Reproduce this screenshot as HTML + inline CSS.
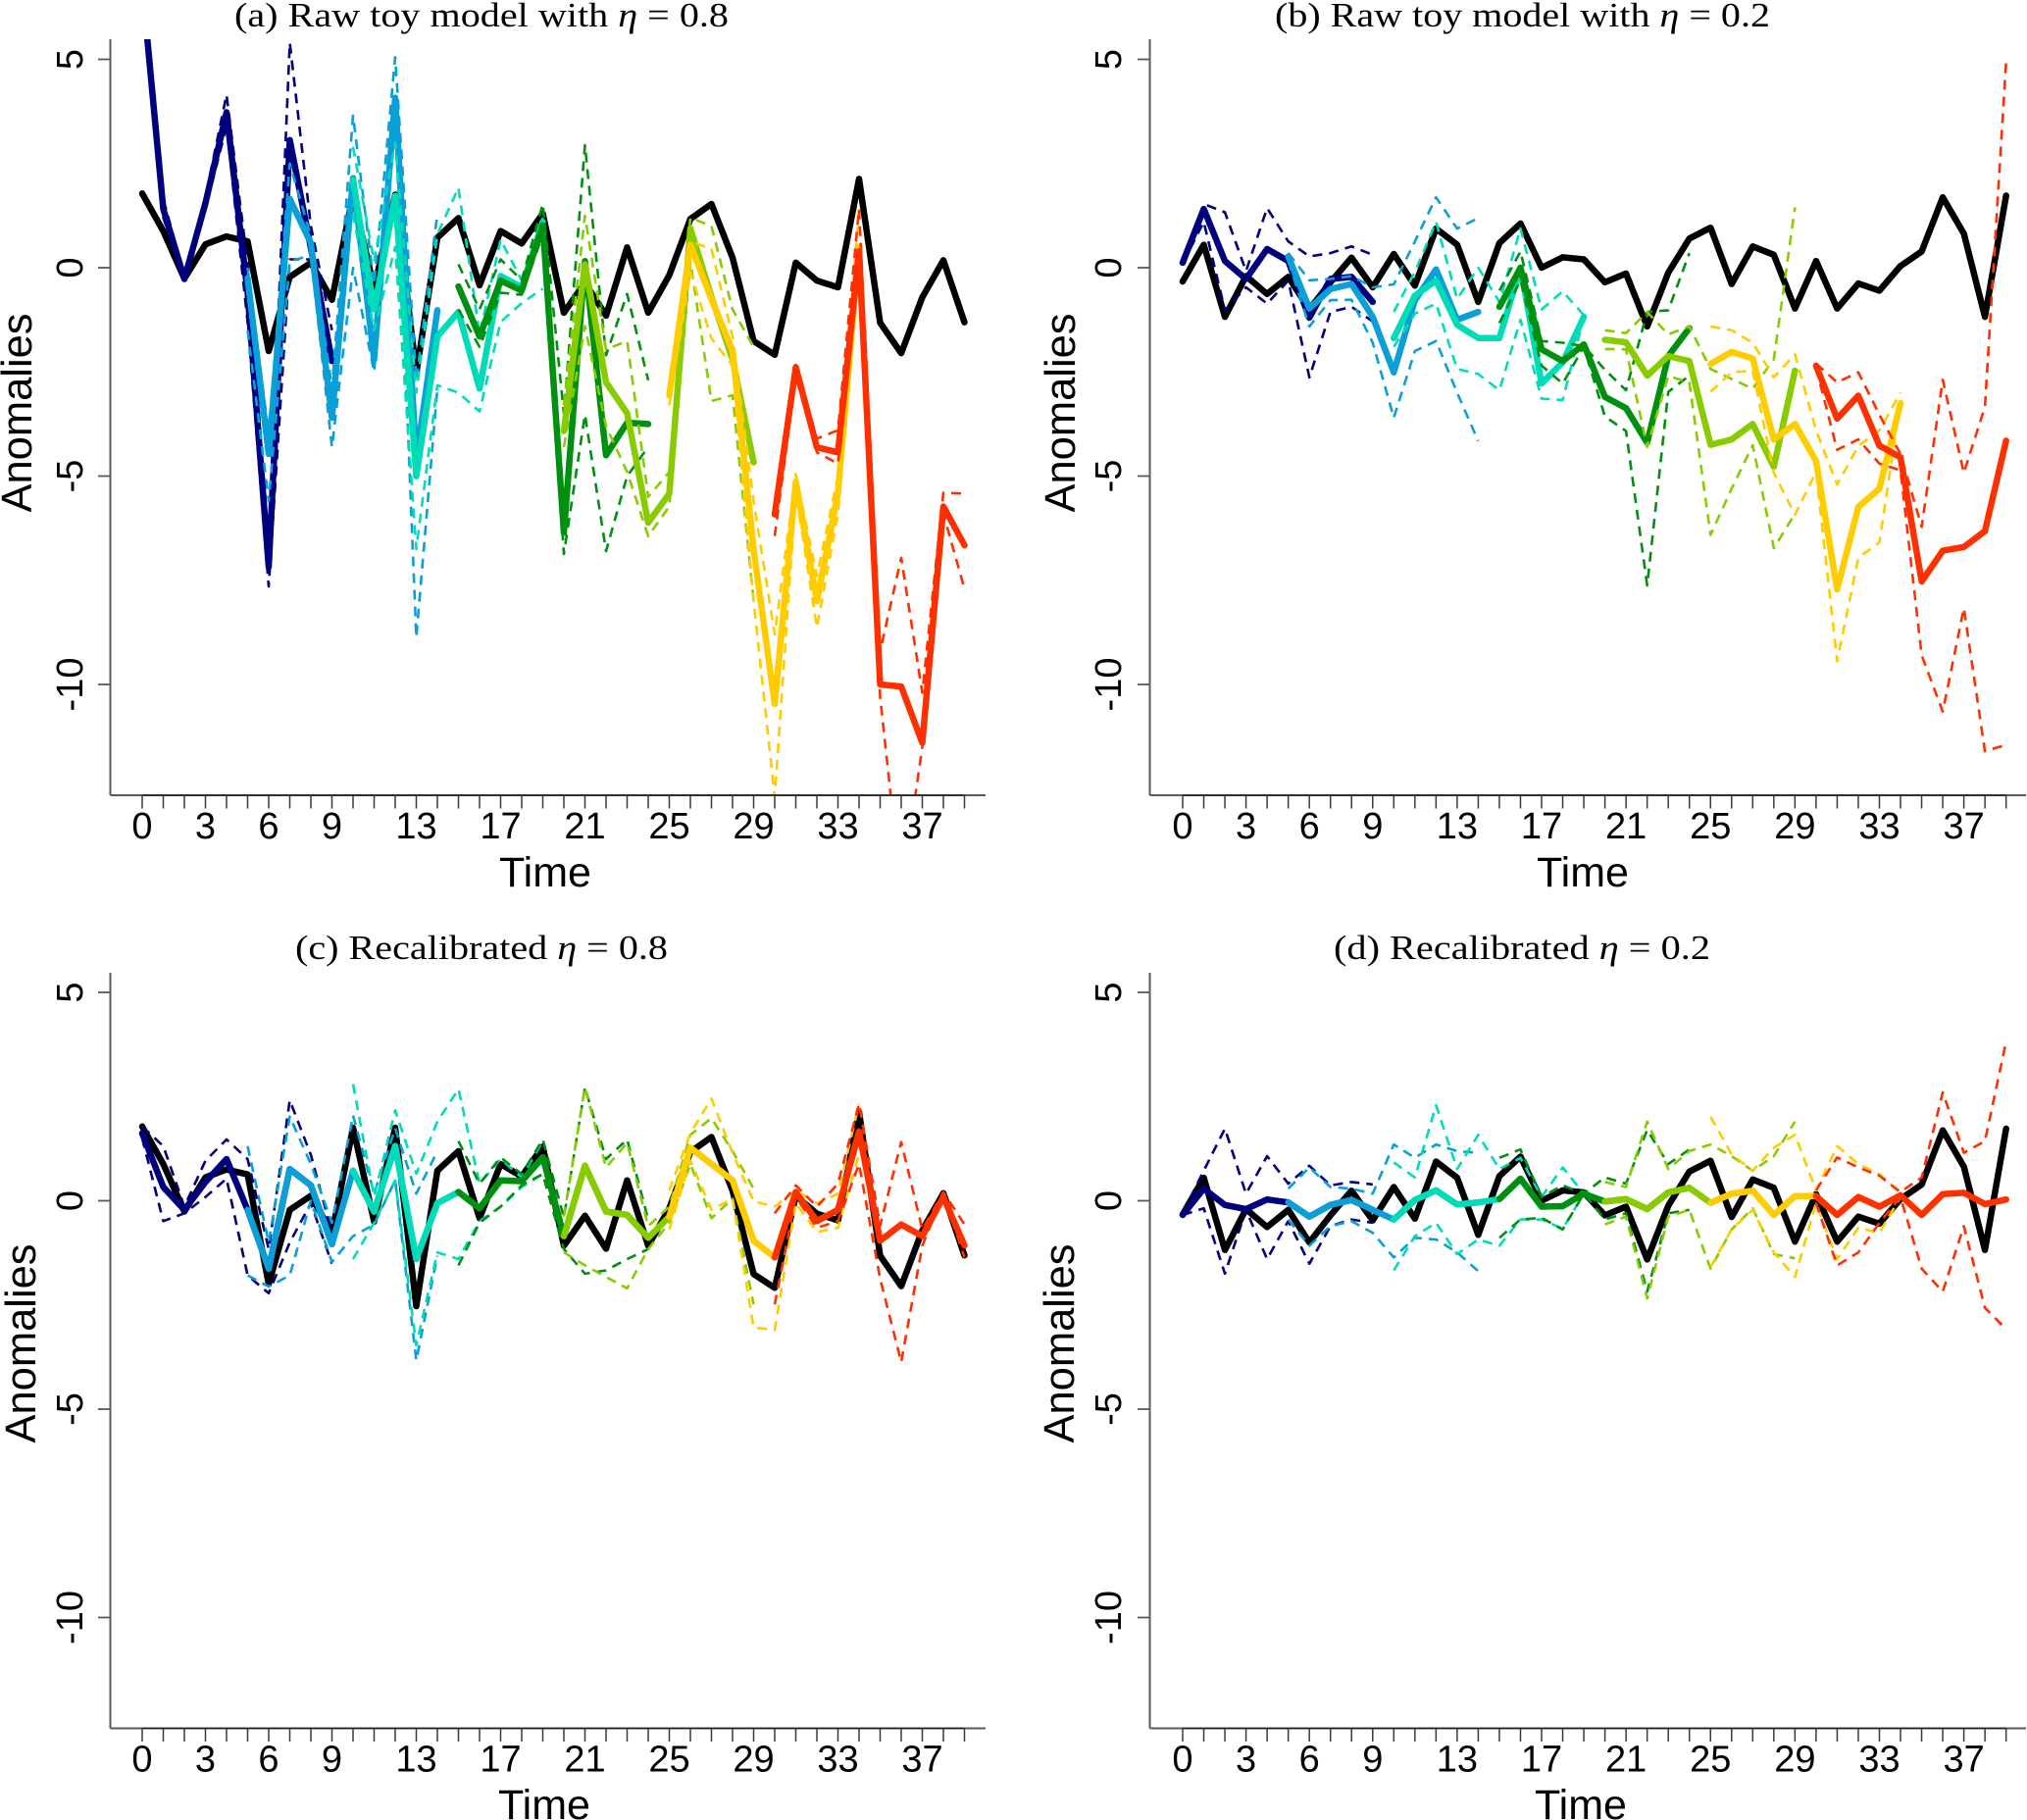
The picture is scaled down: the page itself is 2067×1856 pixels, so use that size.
<!DOCTYPE html>
<html>
<head>
<meta charset="utf-8">
<title>Toy model anomalies</title>
<style>
html,body{margin:0;padding:0;background:#fff;}
svg{display:block;}
.sans{font-family:"Liberation Sans",sans-serif;fill:#000;}
.serif{font-family:"Liberation Serif",serif;fill:#000;font-size:35px;}
</style>
</head>
<body>
<svg id="figure" xmlns="http://www.w3.org/2000/svg" width="2067" height="1856" viewBox="0 0 2067 1856">
<rect width="2067" height="1856" fill="#fff"/>
<text class="serif" x="239" y="27" textLength="504" lengthAdjust="spacingAndGlyphs">(a) Raw toy model with <tspan font-style="italic">η</tspan> = 0.8</text>
<text class="serif" x="1300" y="27" textLength="505" lengthAdjust="spacingAndGlyphs">(b) Raw toy model with <tspan font-style="italic">η</tspan> = 0.2</text>
<text class="serif" x="301" y="978" textLength="380" lengthAdjust="spacingAndGlyphs">(c) Recalibrated <tspan font-style="italic">η</tspan> = 0.8</text>
<text class="serif" x="1360" y="978" textLength="384" lengthAdjust="spacingAndGlyphs">(d) Recalibrated <tspan font-style="italic">η</tspan> = 0.2</text>
<text class="sans" font-size="43.5" text-anchor="middle" transform="translate(32,421) rotate(-90)">Anomalies</text>
<text class="sans" font-size="43.5" text-anchor="middle" transform="translate(1096,421) rotate(-90)">Anomalies</text>
<text class="sans" font-size="43.5" text-anchor="middle" transform="translate(36,1370) rotate(-90)">Anomalies</text>
<text class="sans" font-size="43.5" text-anchor="middle" transform="translate(1095,1370) rotate(-90)">Anomalies</text>
<text class="sans" font-size="43" text-anchor="middle" x="556" y="904">Time</text>
<text class="sans" font-size="43" text-anchor="middle" x="1614" y="904">Time</text>
<text class="sans" font-size="43" text-anchor="middle" x="555" y="1855">Time</text>
<text class="sans" font-size="43" text-anchor="middle" x="1612" y="1855">Time</text>
</svg>
<script>
const xTickLabels=[0,3,6,9,13,17,21,25,29,33,37];
const yTickLabels=[5,0,-5,-10];
const leadStarts=[0,5,10,15,20,25,30];
const leadNames=['navy','blue','teal','green','lime','yellow','red'];
const leadColors=['#00007f','#0a9fd6','#00dcb8','#009010','#88cc00','#ffcc00','#ff3000'];

const obsHighEta=[1.78,0.88,-0.26,0.56,0.75,0.63,-2.0,-0.22,0.12,-0.77,1.75,-0.5,1.75,-2.53,0.72,1.19,-0.42,0.88,0.58,1.3,-1.08,-0.36,-1.15,0.49,-1.08,-0.18,1.17,1.53,0.24,-1.76,-2.09,0.12,-0.31,-0.47,2.13,-1.32,-2.05,-0.71,0.18,-1.31];
const obsLowEta=[-0.33,0.55,-1.18,-0.2,-0.63,-0.22,-1.0,-0.35,0.24,-0.47,0.33,-0.43,0.94,0.55,-0.82,0.59,1.06,0,0.25,0.2,-0.35,-0.14,-1.41,-0.12,0.7,0.96,-0.39,0.51,0.31,-0.98,0.16,-0.98,-0.38,-0.55,0.04,0.39,1.69,0.82,-1.18,1.73];

const aMean=[
[6.8,1.41,-0.27,1.55,3.73,-0.6,-7.18,3.06,0.47,-2.24],
[-0.25,-4.47,1.65,0.59,-3.6,2.15,-2.2,4.08,-4.6,-1.02],
[2.1,-1.0,1.72,-5.0,-1.65,-1.06,-2.9,-0.2,-0.47,1.1],
[-0.45,-1.65,-0.31,-0.55,1.02,-6.36,0.16,-4.5,-3.72,-3.75],
[-3.92,0.08,-2.75,-3.49,-6.12,-5.42,0.94,-0.7,-2.2,-4.67],
[-3.06,0.55,-0.75,-2.0,-6.75,-10.47,-5.14,-8.0,-5.4,0.5],
[-5.92,-2.39,-4.31,-4.43,0.39,-10.0,-10.05,-11.4,-5.73,-6.66]];
const aUpper=[
[7.2,1.65,-0.2,1.7,4.15,0.1,-6.6,5.4,1.0,-1.5],
[0.0,-4.0,2.5,0.75,-2.9,3.65,-0.4,5.05,-2.7,1.29],
[2.9,0.15,3.0,-3.0,0.8,1.92,-1.6,0.67,-0.3,1.2],
[0.08,-1.0,0.2,-0.3,1.53,-3.5,2.94,-2.1,-0.63,-2.7],
[-3.3,1.25,-1.96,-1.76,-5.5,-4.9,1.2,1.0,-1.0,-1.9],
[-2.8,0.63,0.45,-1.65,-5.6,-8.8,-4.95,-7.4,-5.0,1.4],
[-5.7,-2.3,-4.1,-3.9,1.41,-9.2,-6.96,-10.2,-5.4,-5.42]];
const aLower=[
[6.4,1.2,-0.3,1.4,3.4,-1.3,-7.65,0.2,0.2,-3.1],
[-1.5,-5.6,0.15,0.3,-4.3,0,-2.5,3.7,-8.87,-2.9],
[1.3,-1.5,0.5,-6.75,-2.82,-3.0,-3.45,-1.3,-0.85,-0.5],
[-1.0,-1.9,-0.6,-0.65,0.8,-6.87,-3.53,-6.8,-5.0,-4.3],
[-4.3,-1.4,-3.8,-4.9,-6.44,-5.73,0.15,-3.2,-3.06,-8.0],
[-3.3,-0.1,-1.7,-2.35,-8.0,-12.7,-5.4,-8.63,-5.9,0],
[-6.44,-2.6,-4.43,-4.7,0,-10.3,-15,-11.5,-5.9,-7.7]];

const bMean=[
[0.12,1.41,0.16,-0.27,0.45,0.16,-1.2,-0.27,-0.22,-0.82],
[0.27,-0.98,-0.51,-0.39,-1.18,-2.51,-0.78,-0.04,-1.25,-1.06],
[-1.69,-0.67,-0.31,-1.37,-1.69,-1.69,0,-2.78,-2.27,-1.18],
[-0.94,0,-1.96,-2.24,-1.84,-3.1,-3.37,-4.2,-2.12,-1.45],
[-1.73,-1.79,-2.59,-2.12,-2.24,-4.25,-4.12,-3.75,-4.78,-2.47],
[-2.31,-2.02,-2.18,-4.12,-3.75,-4.64,-7.72,-5.74,-5.3,-3.25],
[-2.35,-3.62,-3.07,-4.27,-4.55,-7.53,-6.79,-6.7,-6.32,-4.15]];
const bUpper=[
[0.1,1.53,1.33,-0.08,1.43,0.63,0.27,0.35,0.51,0.31],
[0.35,-0.3,-0.27,-0.2,-0.47,-0.4,0.63,1.69,0.94,1.19],
[-1.06,-0.1,1.1,-0.75,0,-0.82,0.94,-1.0,-0.57,-1.14],
[-0.55,0.39,-1.76,-1.8,-1.88,-2.45,-2.94,-1.06,-1.02,0.35],
[-1.5,-1.57,-1.06,-1.6,-1.41,-2.43,-2.67,-2.9,-2.2,1.45],
[-1.41,-1.5,-1.8,-2.63,-2.08,-3.9,-5.2,-4.28,-3.9,-3.0],
[-2.3,-2.75,-2.51,-3.53,-4.47,-6.22,-2.69,-4.92,-3.34,4.94]];
const bLower=[
[0.1,1.1,-1.02,-0.47,-0.86,-0.31,-2.63,-1.06,-0.94,-1.29],
[0.16,-1.41,-0.78,-0.77,-1.8,-3.6,-2.0,-1.76,-3,-4.16],
[-1.9,-1.1,-0.86,-2.43,-2.55,-2.94,-1.25,-3.14,-3.18,-1.18],
[-1.33,-0.3,-2.35,-2.78,-1.9,-3.57,-3.92,-7.62,-2.98,-2.59],
[-1.95,-1.96,-4.3,-2.6,-2.75,-6.41,-5.3,-4.26,-6.73,-5.9],
[-2.98,-2.51,-2.47,-4.92,-5.93,-4.9,-9.44,-6.96,-6.59,-3.2],
[-2.4,-4.37,-4.12,-4.7,-4.86,-9.3,-10.65,-8.17,-11.6,-11.45]];

const cMean=[
[1.62,0.33,-0.22,0.45,1.0,-0.22,-1.63,0.76,0.37,-1.04],
[-0.22,-1.63,0.76,0.37,-1.04,0.72,-0.26,1.31,-1.4,-0.06],
[0.72,-0.26,1.31,-1.4,-0.06,0.21,-0.18,0.49,0.47,1.04],
[0.21,-0.18,0.49,0.47,1.04,-0.85,0.84,-0.26,-0.34,-0.89],
[-0.85,0.84,-0.26,-0.34,-0.89,-0.38,1.27,0.88,0.49,-0.96],
[-0.38,1.27,0.88,0.49,-0.96,-1.36,0.21,-0.49,-0.22,1.66],
[-1.36,0.21,-0.49,-0.22,1.66,-0.96,-0.57,-0.85,0.09,-1.07]];
const cUpper=[
[1.78,1.31,-0.14,0.96,1.47,1.0,-1.16,2.41,1.1,-0.77],
[1.31,-1.0,2.02,0.88,-0.53,2.05,0.17,1.74,0.17,1.19],
[2.8,0.1,2.17,0.65,1.9,2.68,0.41,1.0,0.56,1.43],
[1.43,0.41,1.04,0.64,1.47,-0.4,2.72,1.0,1.47,-0.45],
[-0.38,2.72,0.8,1.39,-0.61,-0.14,1.58,1.98,1.19,0.29],
[0.25,1.62,2.45,1.15,-0.02,-0.14,0.25,-0.06,0.17,2.33],
[-0.3,0.37,-0.14,0.41,2.33,-0.6,1.41,-0.69,0.21,-0.57]];
const cLower=[
[1.5,-0.49,-0.3,0.09,0.53,-1.79,-2.22,-1.0,-0.06,-1.51],
[-1.79,-2.06,-1.79,0,-1.47,-0.85,-0.57,0.49,-3.83,-1.32],
[-1.4,-0.53,0.49,-3.47,-1.24,-1.4,-0.49,-0.14,0.33,0.64],
[-1.55,-0.53,-0.14,0.37,0.64,-1.16,-1.75,-1.67,-1.4,-1.16],
[-1.24,-1.55,-1.83,-2.1,-1.16,-0.53,0.88,-0.42,0.05,-2.49],
[-0.69,0.96,-0.22,0.05,-3.04,-3.1,-0.06,-0.75,-0.65,1.11],
[-2.49,0.09,-0.65,-0.49,0.88,-1.87,-3.87,-1.08,0.17,-1.36]];

const dMean=[
[-0.34,0.29,-0.1,-0.2,0.03,-0.04,-0.38,-0.1,0.02,-0.22],
[-0.04,-0.38,-0.1,0.02,-0.22,-0.45,0.02,0.25,-0.09,-0.04],
[-0.45,0.02,0.25,-0.09,-0.04,0.04,0.53,-0.14,-0.13,0.17],
[0.04,0.53,-0.14,-0.13,0.17,-0.02,0.04,-0.2,0.2,0.31],
[-0.02,0.04,-0.2,0.2,0.31,-0.05,0.17,0.24,-0.34,0.11],
[-0.05,0.17,0.24,-0.34,0.11,0.11,-0.34,0.09,-0.14,0.13],
[0.11,-0.34,0.09,-0.14,0.13,-0.34,0.16,0.19,-0.08,0.03]];
const dUpper=[
[-0.3,0.72,1.73,0.17,1.07,0.41,0.84,0.37,0.45,0.39],
[0.29,0.8,0.33,0.29,0.17,1.35,1.03,1.35,1.19,1.15],
[0.92,0.56,2.29,0.76,1.58,0.76,1.03,0.09,0.8,0.17],
[1.03,1.23,0.09,0.37,0.17,0.56,0.41,1.7,0.88,1.23],
[0.45,0.33,1.9,0.76,1.19,1.35,1.07,0.72,1.07,1.9],
[2.02,1.11,0.72,1.27,1.58,0.25,1.31,0.88,0.64,0.17],
[0.25,1.04,0.8,0.6,0.21,0.56,2.6,1.15,1.43,3.82]];
const dLower=[
[-0.34,-0.18,-1.75,-0.22,-1.4,-0.49,-1.51,-0.61,-0.45,-0.53],
[-0.45,-1.08,-0.61,-0.49,-0.77,-1.36,-0.89,-0.93,-1.24,-1.69],
[-1.67,-0.85,-0.53,-1.28,-0.93,-1.08,-0.45,-0.45,-0.67,0.17],
[-0.89,-0.45,-0.41,-0.69,0.17,-0.45,-0.3,-2.18,-0.3,-0.22],
[-0.57,-0.38,-2.34,-0.38,-0.22,-1.63,-0.69,-0.18,-1.28,-1.38],
[-1.59,-0.69,-0.22,-1.24,-1.83,-0.06,-1.4,-0.65,-0.77,0.09],
[-0.06,-1.55,-1.24,-0.53,0.09,-1.63,-2.18,-0.61,-2.57,-3.08]];

const panelKeys=['a','b','c','d'];
const panelObs=[obsHighEta,obsLowEta,obsHighEta,obsLowEta];
const panelMean=[aMean,bMean,cMean,dMean];
const panelUpper=[aUpper,bUpper,cUpper,dUpper];
const panelLower=[aLower,bLower,cLower,dLower];

const NS='http://www.w3.org/2000/svg';
const svg=document.getElementById('figure');
const xLayout=[{axis:112.5,zero:145,step:21.5,end:1005,tickX:84},{axis:1172.5,zero:1206,step:21.53,end:2066,tickX:1143}];
const yLayout=[{zero:273,top:40,bottom:811},{zero:1224.5,top:992,bottom:1762.5}];
const unit=42.5;

function make(tag,attrs,parent){
  const el=document.createElementNS(NS,tag);
  for(const k in attrs){el.setAttribute(k,attrs[k]);}
  parent.appendChild(el);
  return el;
}
function drawPanel(index){
  const key=panelKeys[index];
  const xl=xLayout[index%2];
  const yl=yLayout[index<2?0:1];
  const xScale=t=>xl.zero+t*xl.step;
  const yScale=v=>yl.zero-v*unit;
  const toPath=(vals,start)=>vals.map((v,i)=>(i?'L':'M')+xScale(start+i).toFixed(1)+' '+yScale(v).toFixed(1)).join(' ');

  const g=make('g',{},svg);
  
  

  const clip=make('clipPath',{id:'clip-'+key},g);
  make('rect',{x:xl.axis,y:yl.top,width:xl.end-xl.axis,height:yl.bottom-yl.top},clip);

  const plot=make('g',{'clip-path':'url(#clip-'+key+')',fill:'none','stroke-linejoin':'round','stroke-linecap':'round'},g);
  
  

  const obs=make('path',{d:toPath(panelObs[index],0),stroke:'#000','stroke-width':6.5},plot);
  
  

  leadStarts.forEach((start,s)=>{
    const upper=make('path',{d:toPath(panelUpper[index][s],start),stroke:leadColors[s],'stroke-width':2.6,'stroke-dasharray':'10 7','stroke-linecap':'butt'},plot);
    
    
    const lower=make('path',{d:toPath(panelLower[index][s],start),stroke:leadColors[s],'stroke-width':2.6,'stroke-dasharray':'10 7','stroke-linecap':'butt'},plot);
    
    
    const mean=make('path',{d:toPath(panelMean[index][s],start),stroke:leadColors[s],'stroke-width':6.5},plot);
    
    
  });

  const yAxis=make('line',{x1:xl.axis,x2:xl.axis,y1:yl.top,y2:yl.bottom,stroke:'#5a5a5a','stroke-width':2},g);
  
  
  const xAxis=make('line',{x1:xl.axis,x2:xl.end,y1:yl.bottom,y2:yl.bottom,stroke:'#5a5a5a','stroke-width':2},g);
  
  
  const xAxisDark=make('line',{x1:xScale(0),x2:xScale(39),y1:yl.bottom,y2:yl.bottom,stroke:'#222','stroke-width':1.6},g);
  
  

  for(let t=0;t<40;t++){
    const tick=make('line',{x1:xScale(t),x2:xScale(t),y1:yl.bottom,y2:yl.bottom+13.5,stroke:'#3a3a3a','stroke-width':1.5},g);
    
    
  }
  xTickLabels.forEach(t=>{
    const label=make('text',{x:xScale(t),y:yl.bottom+44,'text-anchor':'middle','font-size':38,class:'sans'},g);
    label.textContent=t;
    
    
  });
  yTickLabels.forEach(v=>{
    const tick=make('line',{x1:xl.axis-12.5,x2:xl.axis,y1:yScale(v),y2:yScale(v),stroke:'#5a5a5a','stroke-width':1.8},g);
    
    
    const label=make('text',{'text-anchor':'middle','font-size':38,class:'sans',transform:'translate('+xl.tickX+','+yScale(v)+') rotate(-90)'},g);
    label.textContent=v;
    
    
  });
}
panelKeys.forEach((k,i)=>drawPanel(i));
</script>
</body>
</html>
